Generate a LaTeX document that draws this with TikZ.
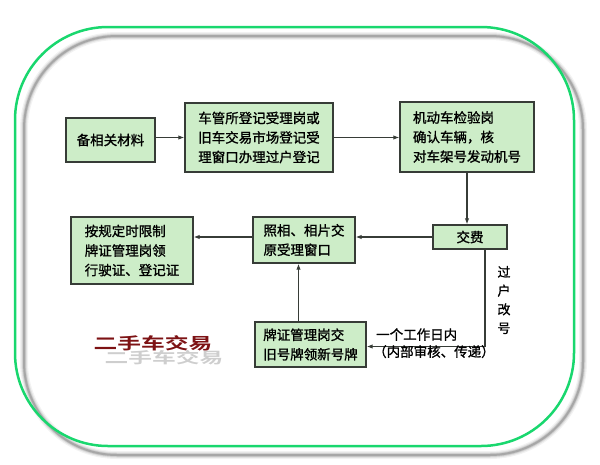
\documentclass[tikz,border=0pt]{standalone}
\usepackage{fontspec}
\setmainfont{Noto Sans CJK SC}[BoldFont={Noto Sans CJK SC Bold}]
\newfontfamily\cjkmed{Noto Sans CJK SC}[FakeBold=1.2]
\usetikzlibrary{arrows.meta,calc}
\definecolor{boxfill}{RGB}{205,237,200}
\definecolor{boxline}{RGB}{55,60,55}
\definecolor{framegreen}{RGB}{25,215,110}
\definecolor{titlered}{RGB}{125,18,20}
\tikzset{
 box/.style={draw=boxline, line width=1.4pt, fill=boxfill, inner sep=0pt, align=left, font=\cjkmed\fontsize{13.5}{19.5}\selectfont},
 arr/.style={draw=boxline, line width=1.1pt, -{Latex[length=6pt,width=4.5pt]}},
 lbl/.style={font=\cjkmed\fontsize{13.5}{19}\selectfont, inner sep=0pt},
 ttl/.style={font=\fontsize{19}{19}\bfseries, inner sep=0pt},
}
\begin{document}
\begin{tikzpicture}[x=1pt,y=-1pt]
\useasboundingbox (0,0) rectangle (600,464);
% frame with soft shadow
\foreach \w/\o in {8/0.10,5.5/0.16,3.5/0.25,2/0.45}
  \draw[gray, line width=\w pt, opacity=\o, rounded corners=93pt] (24,36) rectangle (583,455);
\draw[framegreen, line width=2.5pt, rounded corners=93pt] (15,27) rectangle (574,446);
% boxes
\node[box, minimum width=89pt, minimum height=44pt] (b1) at (110.5,140) {备相关材料};
\node[box, minimum width=148pt, minimum height=69pt] (b2) at (259,137.5) {车管所登记受理岗或\\旧车交易市场登记受\\理窗口办理过户登记};
\node[box, minimum width=134pt, minimum height=70pt] (b3) at (467,137) {机动车检验岗\\确认车辆，核\\对车架号发动机号};
\node[box, minimum width=74pt, minimum height=24pt] (fee) at (470,237) {交费};
\node[box, minimum width=102pt, minimum height=46pt] (b5) at (304,240) {照相、相片交\\原受理窗口};
\node[box, minimum width=122pt, minimum height=67pt] (b6) at (132,250.5) {按规定时限制\\牌证管理岗领\\行驶证、登记证};
\node[box, minimum width=111pt, minimum height=45pt] (b7) at (310.5,344.5) {牌证管理岗交\\旧号牌领新号牌};
% connectors
\draw[arr] (b2.west -| b1.east) -- (b2.west);
\draw[arr] (b2.east) -- (b2.east -| b3.west);
\draw[arr] (b3.south) -- (b3.south |- fee.north);
\draw[arr] (fee.west) -- (fee.west -| b5.east);
\draw[arr] ([yshift=3pt]b5.west) -- ([yshift=3pt]b5.west -| b6.east);
\draw[arr] ([xshift=-12pt]b7.north) -- ([xshift=-12pt]b7.north |- b5.south);
\coordinate (feeout) at ([xshift=15pt]fee.south);
\draw[arr] (feeout) |- ([yshift=-2pt]b7.east);
% labels
\node[lbl, anchor=south west] (l1) at (376,341) {一个工作日内};
\node[lbl, anchor=north west] (l2) at (373,345) {（内部审核、传递）};
\node[lbl, align=center, font=\cjkmed\fontsize{13}{18.7}\selectfont] (l3) at (504,300) {过\\户\\改\\号};
% title with soft shadow
\node[ttl, text=gray!70, opacity=0.55] (tshadow) at (164,358) {\scalebox{1.25}[0.8]{二手车交易}};
\node[ttl, text=titlered] (title) at (153,343) {\scalebox{1.25}[0.85]{二手车交易}};
\end{tikzpicture}
\end{document}
